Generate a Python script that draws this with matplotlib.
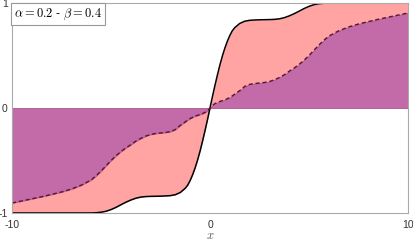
import matplotlib
matplotlib.use('Agg')
import matplotlib.pyplot as plt

# ====================== DADOS ======================
x = [-10, -9.5, -9, -8.5, -8, -7.5, -7, -6.5, -6, -5.75, -5.5, -5.25, -5, -4.75,
     -4.5, -4.25, -4, -3.75, -3.5, -3.25, -3, -2.75, -2.5, -2.25, -2, -1.75, -1.5,
     -1.25, -1.125, -1, -0.875, -0.75, -0.625, -0.5, -0.375, -0.25, -0.125,
     0,
     0.125, 0.25, 0.375, 0.5, 0.625, 0.75, 0.875, 1, 1.125, 1.25, 1.5, 1.75, 2,
     2.25, 2.5, 2.75, 3, 3.25, 3.5, 3.75, 4, 4.25, 4.5, 4.75, 5, 5.25, 5.5, 5.75,
     6, 6.5, 7, 7.5, 8, 8.5, 9, 9.5, 10]

solid = [-1.0, -1.0, -1.0, -1.0, -1.0, -1.0, -1.0, -1.0, -1.0, -0.998, -0.993,
         -0.984, -0.968, -0.947, -0.922, -0.898, -0.877, -0.86, -0.849, -0.844,
         -0.842, -0.841, -0.84, -0.838, -0.835, -0.826, -0.805, -0.765, -0.735,
         -0.69, -0.635, -0.57, -0.495, -0.41, -0.315, -0.215, -0.11,
         0.0,
         0.11, 0.215, 0.315, 0.41, 0.495, 0.57, 0.635, 0.69, 0.735, 0.765, 0.805,
         0.826, 0.835, 0.838, 0.84, 0.841, 0.842, 0.844, 0.849, 0.86, 0.877, 0.898,
         0.922, 0.947, 0.968, 0.984, 0.993, 0.998, 1.0, 1.0, 1.0, 1.0, 1.0, 1.0,
         1.0, 1.0, 1.0]

dashed = [-0.905, -0.885, -0.865, -0.845, -0.823, -0.80, -0.772, -0.735, -0.685,
          -0.645, -0.60, -0.55, -0.50, -0.455, -0.415, -0.38, -0.35, -0.316, -0.29,
          -0.268, -0.252, -0.243, -0.238, -0.233, -0.225, -0.205, -0.165, -0.132,
          -0.115, -0.10, -0.088, -0.077, -0.07, -0.062, -0.053, -0.042, -0.025,
          0.0,
          0.025, 0.042, 0.053, 0.062, 0.07, 0.077, 0.088, 0.10, 0.115, 0.132, 0.165,
          0.205, 0.225, 0.233, 0.238, 0.243, 0.252, 0.268, 0.29, 0.316, 0.35, 0.38,
          0.415, 0.455, 0.50, 0.55, 0.60, 0.645, 0.685, 0.735, 0.772, 0.80, 0.823,
          0.845, 0.865, 0.885, 0.905]

xticks = [-10, 0, 10]
yticks = [-1, 0, 1]
label = r'$\alpha = 0.2$ - $\beta = 0.4$'

# ====================== FIGURA ======================
plt.rcParams['mathtext.fontset'] = 'cm'
plt.rcParams['font.family'] = ['Liberation Sans', 'DejaVu Sans']
plt.rcParams['axes.unicode_minus'] = False

fig = plt.figure(figsize=(4.14, 2.42), dpi=100)
ax = fig.add_axes([0.029, 0.12, 0.9565, 0.8676])

pink = '#ffa3a3'
purple = '#c36ba8'

zeros = [0.0] * len(x)
ax.fill_between(x, solid, dashed, color=pink, lw=0)
ax.fill_between(x, dashed, zeros, facecolor=purple, edgecolor='#a8568f', lw=0.6)
ax.plot(x, solid, color='black', lw=1.1)
ax.plot(x, dashed, color='#5a1630', lw=1.0, ls=(0, (3, 2)))

ax.set_xlim(-10, 10)
ax.set_ylim(-1, 1)
ax.set_xticks(xticks)
ax.set_yticks(yticks)
ax.set_xticklabels([str(t) for t in xticks])
ax.set_yticklabels([str(t) for t in yticks])
ax.tick_params(length=0, labelsize=7.5, colors='#333333', pad=3)
ax.tick_params(axis='x', pad=5)
for s in ax.spines.values():
    s.set_color('#aaaaaa')
    s.set_linewidth(0.8)

ax.set_xlabel(r'$x$', fontsize=9, color='#555555', labelpad=0)

# caixa com os parametros (canto superior esquerdo)
ax.text(0.005, 0.985, label, transform=ax.transAxes, fontsize=9,
        ha='left', va='top',
        bbox=dict(boxstyle='square,pad=0.25', fc='white', ec='#999999', lw=0.8))

fig.savefig('out.png', dpi=100)
